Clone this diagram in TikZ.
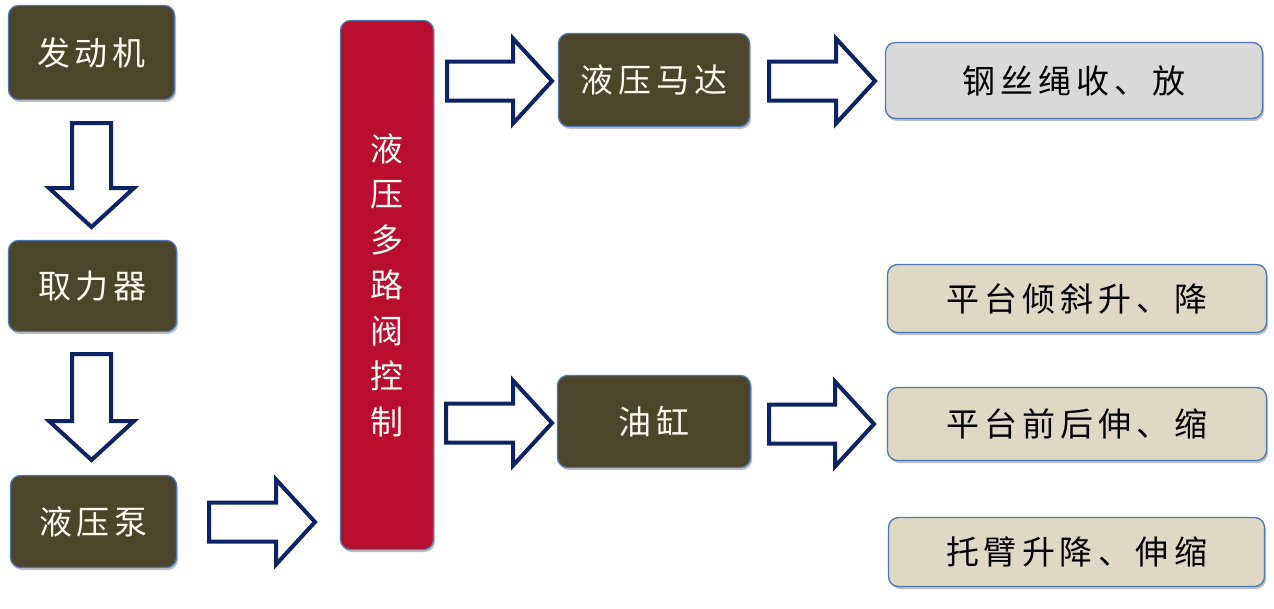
\documentclass[tikz,border=0pt]{standalone}
\usepackage{fontspec}
\newfontfamily\cjk{Noto Sans CJK SC}
\usetikzlibrary{shadows,calc}
\definecolor{darkbox}{RGB}{75,69,44}
\definecolor{redbox}{RGB}{184,13,46}
\definecolor{greybox}{RGB}{217,217,217}
\definecolor{tanbox}{RGB}{221,217,196}
\definecolor{edge}{RGB}{79,120,180}
\definecolor{navy}{RGB}{12,36,100}
\definecolor{cream}{RGB}{255,251,240}
\newcommand\gp{\kern5pt}
\def\sw{19.5pt}
\def\hw{42.5pt}
\def\hl{39pt}
\newcommand\harrow[2]{%
  \draw[blockarrow] let \p1=(#1), \p2=(#2) in
   (\x1,\y1+\sw) -- (\x2-\hl,\y1+\sw) -- (\x2-\hl,\y1+\hw) -- (\x2,\y1)
   -- (\x2-\hl,\y1-\hw) -- (\x2-\hl,\y1-\sw) -- (\x1,\y1-\sw) -- cycle;}
\newcommand\varrow[2]{%
  \draw[blockarrow] let \p1=(#1), \p2=(#2) in
   (\x1+\sw,\y1) -- (\x1+\sw,\y2+\hl) -- (\x1+\hw,\y2+\hl) -- (\x1,\y2)
   -- (\x1-\hw,\y2+\hl) -- (\x1-\sw,\y2+\hl) -- (\x1-\sw,\y1) -- cycle;}
\tikzset{
  box/.style={rounded corners=10pt, draw=edge, line width=1.3pt,
    font=\cjk\fontsize{33}{40}\selectfont, inner sep=0pt,
    drop shadow={shadow xshift=1.5pt, shadow yshift=-2.5pt, opacity=0.35, fill=black!70}},
  darkb/.style={box, fill=darkbox, text=cream},
  lightb/.style={box, fill=tanbox, text=black},
  greyb/.style={box, fill=greybox, text=black},
  redb/.style={box, fill=redbox, text=cream},
  blockarrow/.style={draw=navy, fill=white, line width=4pt, line join=miter},
}
\begin{document}
\begin{tikzpicture}[x=1pt,y=-1pt]
\useasboundingbox[fill=white] (0,0) rectangle (1274,608);
% left column
\node[darkb, minimum width=166pt, minimum height=94pt] (engine) at (91.5,52.5) {发\gp 动\gp 机};
\node[darkb, minimum width=168pt, minimum height=91pt] (pto) at (92.5,286) {取\gp 力\gp 器};
\node[darkb, minimum width=166pt, minimum height=92pt] (pump) at (93.5,521.5) {液\gp 压\gp 泵};
% valve
\node[redb, minimum width=93pt, minimum height=529pt, align=center,
  font=\cjk\fontsize{33}{45.5}\selectfont] (valve) at (387,285) {液\\压\\多\\路\\阀\\控\\制};
% middle
\node[darkb, minimum width=191pt, minimum height=93pt] (motor) at (654,80) {液\gp 压\gp 马\gp 达};
\node[darkb, minimum width=193pt, minimum height=92pt] (cyl) at (654,421.5) {油\gp 缸};
% right
\node[greyb, minimum width=377pt, minimum height=76pt] (rope) at (1074,80.5) {钢\gp 丝\gp 绳\gp 收\gp 、\gp 放};
\node[lightb, minimum width=379pt, minimum height=68pt] (tilt) at (1077,298.5) {平\gp 台\gp 倾\gp 斜\gp 升\gp 、\gp 降};
\node[lightb, minimum width=379pt, minimum height=73pt] (fb) at (1077,424) {平\gp 台\gp 前\gp 后\gp 伸\gp 、\gp 缩};
\node[lightb, minimum width=376pt, minimum height=69pt] (arm) at (1076.5,552) {托\gp 臂\gp 升\gp 降\gp 、\gp 伸\gp 缩};
% arrow end points
\coordinate (a1s) at (91.5,123); \coordinate (a1e) at (91.5,227);
\coordinate (a2s) at (91.5,354); \coordinate (a2e) at (91.5,460);
\coordinate (a3s) at (209,522); \coordinate (a3e) at (315,522);
\coordinate (a4s) at (447,81); \coordinate (a4e) at (552,81);
\coordinate (a5s) at (769,81); \coordinate (a5e) at (875,81);
\coordinate (a6s) at (446,423); \coordinate (a6e) at (552,423);
\coordinate (a7s) at (769,424); \coordinate (a7e) at (874,424);
\varrow{a1s}{a1e}
\varrow{a2s}{a2e}
\harrow{a3s}{a3e}
\harrow{a4s}{a4e}
\harrow{a5s}{a5e}
\harrow{a6s}{a6e}
\harrow{a7s}{a7e}
\end{tikzpicture}
\end{document}
